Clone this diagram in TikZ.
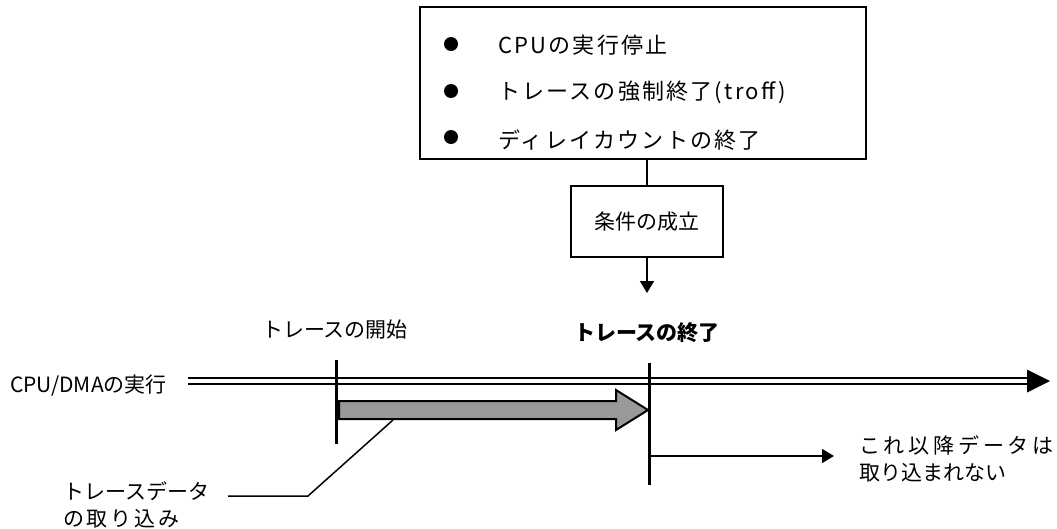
\documentclass[tikz,border=0pt]{standalone}
\usepackage{fontspec}
\setmainfont{Noto Sans CJK JP}
\usetikzlibrary{arrows.meta}

\begin{document}
\begin{tikzpicture}[x=1pt, y=-1pt,
    txt/.style={font=\fontsize{21}{27}\selectfont, inner sep=0pt},
    boxtxt/.style={font=\fontsize{22}{26}\selectfont\addfontfeature{LetterSpace=10}, inner sep=0pt, anchor=west},
    bullet/.style={circle, fill, inner sep=0pt, minimum size=14pt},
    conn/.style={line width=1.5pt},
    tip/.style={-{Triangle[length=12pt,width=14pt]}}]
    \useasboundingbox (0,0) rectangle (1057,528);

    % Box of end conditions
    \node[draw, line width=2pt, minimum width=446pt, minimum height=152pt, inner sep=0pt] (events) at (643,83) {};
    \node[bullet] (b1) at (451,44) {};
    \node[boxtxt] (cpustop) at (498,45) {CPUの実行停止};
    \node[bullet] (b2) at (451,91) {};
    \node[boxtxt] (troff) at (498,92) {トレースの強制終了(troff)};
    \node[bullet] (b3) at (451,137) {};
    \node[boxtxt] (delay) at (498,140) {ディレイカウントの終了};

    % Condition met
    \node[draw, line width=1.5pt, minimum width=152pt, minimum height=71pt, txt] (cond) at (647,221.5) {条件の成立};
    \draw[conn] (cond.north) -- (cond.north |- events.south);
    \coordinate (condtip) at (647,293);
    \draw[conn, tip] (cond.south) -- (condtip);

    % Time line
    \node[txt, anchor=west] (cpu) at (10,386) {CPU/DMAの実行};
    \coordinate (tlstart) at (188,381);
    \coordinate (tlhead) at (1027,381);
    \coordinate (tlend) at (1050,381);
    \draw[line width=2pt, double, double distance=3.5pt] (tlstart) -- (tlhead);
    \fill (tlhead) ++(0,-11.5) -- (tlend) -- ++(-23,11.5) -- cycle;

    % Start of trace
    \node[txt] (startlbl) at (335,330) {トレースの開始};
    \coordinate (s1) at (336,360);
    \coordinate (s2) at (336,444);
    \draw[line width=3pt] (s1) -- (s2);

    % End of trace
    \node[txt, font=\fontsize{21}{27}\selectfont\bfseries] (endlbl) at (647,333) {トレースの終了};
    \coordinate (e1) at (649,363);
    \coordinate (e2) at (649,485);
    \draw[line width=3pt] (e1) -- (e2);

    % Captured data
    \filldraw[fill=black!40, line width=2pt] (339,401) -- (616,401) -- (616,390) -- (648,410)
        -- (616,430) -- (616,419) -- (339,419) -- cycle;
    \node[txt, anchor=west, align=left] (capture) at (63,504.5)
        {トレースデータ\\{\addfontfeature{LetterSpace=13}の取り込み}};
    \coordinate (lead1) at (228,496);
    \coordinate (lead2) at (308,496);
    \coordinate (lead3) at (393,420);
    \draw[conn] (lead1) -- (lead2) -- (lead3);

    % No more data
    \coordinate (e3) at (649,456);
    \coordinate (stoptip) at (834,456);
    \draw[conn, tip] (e3) -- (stoptip);
    \node[txt, anchor=west, align=left] (later) at (859,458.5)
        {{\addfontfeature{LetterSpace=18}これ以降データは}\\取り込まれない};
\end{tikzpicture}
\end{document}
